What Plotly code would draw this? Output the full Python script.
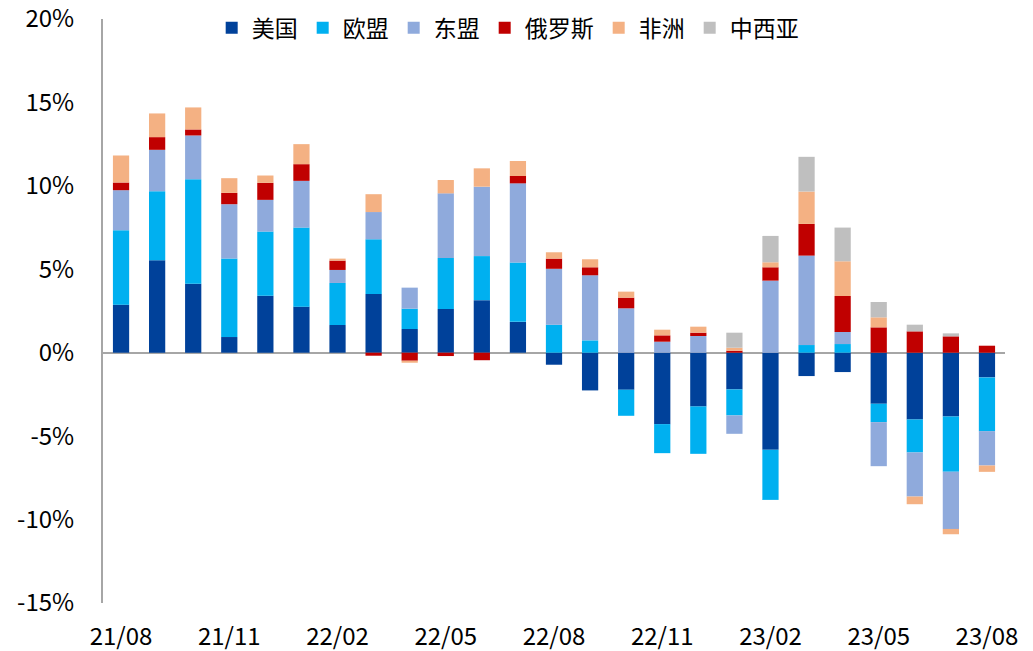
import plotly.graph_objects as go

months = ["21/08","21/09","21/10","21/11","21/12","22/01","22/02","22/03","22/04","22/05",
          "22/06","22/07","22/08","22/09","22/10","22/11","22/12","23/01","23/02","23/03",
          "23/04","23/05","23/06","23/07","23/08"]

us     = [2.88, 5.54, 4.14, 0.94, 3.42, 2.76, 1.66, 3.52, 1.42, 2.62, 3.15, 1.85, -0.72, -2.26, -2.22, -4.28, -3.22, -2.20, -5.82, -1.40, -1.16, -3.06, -4.00, -3.82, -1.48]
eu     = [4.46, 4.14, 6.26, 4.70, 3.84, 4.74, 2.52, 3.28, 1.22, 3.06, 2.64, 3.55, 1.68, 0.74, -1.56, -1.74, -2.84, -1.56, -3.00, 0.46, 0.52, -1.10, -1.98, -3.32, -3.22]
asean  = [2.40, 2.48, 2.62, 3.26, 1.90, 2.80, 0.78, 1.63, 1.26, 3.87, 4.16, 4.75, 3.35, 3.90, 2.66, 0.66, 1.00, -1.10, 4.32, 5.36, 0.72, -2.64, -2.64, -3.42, -2.06]
russia = [0.46, 0.76, 0.36, 0.68, 1.02, 1.00, 0.56, -0.18, -0.48, -0.20, -0.45, 0.44, 0.61, 0.48, 0.64, 0.38, 0.20, 0.12, 0.80, 1.90, 2.16, 1.52, 1.28, 0.98, 0.42]
africa = [1.62, 1.42, 1.32, 0.88, 0.44, 1.20, 0.12, 1.07, -0.12, 0.80, 1.10, 0.90, 0.38, 0.48, 0.36, 0.34, 0.36, 0.18, 0.30, 1.94, 2.08, 0.60, -0.46, -0.32, -0.38]
mwasia = [0, 0, 0, 0, 0, 0, 0, 0, 0, 0, 0, 0, 0, 0, 0, 0, 0, 0.90, 1.58, 2.08, 2.02, 0.92, 0.40, 0.18, 0]

series_names = ["美国", "欧盟", "东盟", "俄罗斯", "非洲", "中西亚"]
series_values = [us, eu, asean, russia, africa, mwasia]
colors = ["#00419A", "#00B0F0", "#8FAADC", "#C00000", "#F4B183", "#BFBFBF"]

tick_labels = ["21/08", "21/11", "22/02", "22/05", "22/08", "22/11", "23/02", "23/05", "23/08"]
y_tick_vals = [-15, -10, -5, 0, 5, 10, 15, 20]
y_tick_text = ["-15%", "-10%", "-5%", "0%", "5%", "10%", "15%", "20%"]

font_family = "Noto Sans CJK SC, Noto Sans, sans-serif"

fig = go.Figure()
for name, vals, c in zip(series_names, series_values, colors):
    fig.add_trace(go.Bar(x=months, y=vals, name=name, marker=dict(color=c, line=dict(width=0))))

fig.update_layout(
    barmode="relative",
    bargap=0.55,
    width=1025, height=643,
    margin=dict(l=95, r=28, t=11, b=48, autoexpand=False),
    paper_bgcolor="white", plot_bgcolor="white",
    font=dict(family=font_family, size=24, color="#000000"),
    showlegend=True,
    legend=dict(orientation="h", x=0.1205, y=0.985, xanchor="left", yanchor="middle",
                font=dict(size=23), itemwidth=30, bgcolor="rgba(0,0,0,0)",
                traceorder="normal"),
)
fig.update_xaxes(
    type="category", range=[-0.5, 24.5],
    tickmode="array", tickvals=tick_labels, ticktext=tick_labels,
    showline=False, showgrid=False, zeroline=False, ticks="",
    ticklabelstandoff=17, tickfont=dict(size=24), ticklabeloverflow="allow",
)
fig.update_yaxes(
    range=[-15, 20], tickmode="array", tickvals=y_tick_vals, ticktext=y_tick_text,
    showline=True, linecolor="#A6A6A6", linewidth=2,
    showgrid=False, zeroline=True, zerolinecolor="#A6A6A6", zerolinewidth=2,
    ticks="", ticklabelstandoff=22, tickfont=dict(size=24), ticklabeloverflow="allow",
)

fig.write_html("out.html")
